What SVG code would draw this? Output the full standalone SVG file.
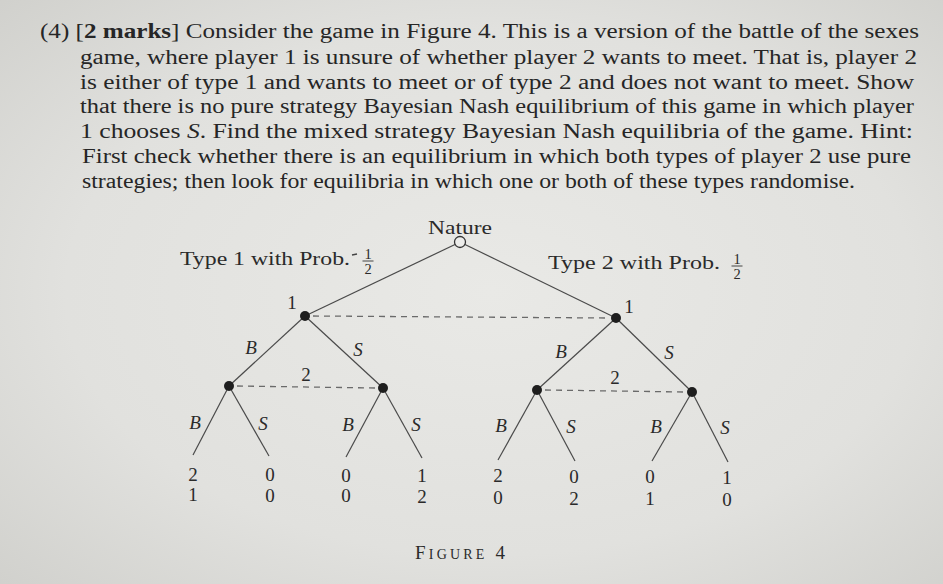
<svg xmlns="http://www.w3.org/2000/svg" width="943" height="584" viewBox="0 0 943 584">
<defs>
<radialGradient id="bg" cx="0.52" cy="0.5" r="0.75">
<stop offset="0" stop-color="#e9e9e6"/>
<stop offset="0.6" stop-color="#e1e1de"/>
<stop offset="1" stop-color="#cfcfcb"/>
</radialGradient>
<style>
.body{font-family:"Liberation Serif","DejaVu Serif",serif;font-size:20px;fill:#262626}
.t{font-family:"Liberation Serif","DejaVu Serif",serif;font-size:19px;fill:#2a2a2a}
.lab{font-family:"Liberation Serif","DejaVu Serif",serif;font-size:19px;fill:#2a2a2a;text-anchor:middle}
.it{font-style:italic}
.fr{font-family:"Liberation Serif","DejaVu Serif",serif;font-size:14.5px;fill:#2a2a2a;text-anchor:middle}
.edge{stroke:#4a4a4a;stroke-width:1.2;fill:none}
.info{stroke:#6a6a6a;stroke-width:1.3;stroke-dasharray:6 5;fill:none}
.dot{fill:#1e1e1e}
</style>
</defs>
<rect width="943" height="584" fill="url(#bg)"/>

<g id="question" class="body">
<text x="40" y="38" textLength="879" lengthAdjust="spacingAndGlyphs">(4) [<tspan font-weight="bold">2 marks</tspan>] Consider the game in Figure 4. This is a version of the battle of the sexes</text>
<text x="80" y="64" textLength="837" lengthAdjust="spacingAndGlyphs">game, where player 1 is unsure of whether player 2 wants to meet. That is, player 2</text>
<text x="80" y="89" textLength="834" lengthAdjust="spacingAndGlyphs">is either of type 1 and wants to meet or of type 2 and does not want to meet. Show</text>
<text x="80" y="113" textLength="834" lengthAdjust="spacingAndGlyphs">that there is no pure strategy Bayesian Nash equilibrium of this game in which player</text>
<text x="80" y="138" textLength="833" lengthAdjust="spacingAndGlyphs">1 chooses <tspan class="it">S</tspan>. Find the mixed strategy Bayesian Nash equilibria of the game. Hint:</text>
<text x="82" y="163" textLength="829" lengthAdjust="spacingAndGlyphs">First check whether there is an equilibrium in which both types of player 2 use pure</text>
<text x="82" y="188" textLength="773" lengthAdjust="spacingAndGlyphs">strategies; then look for equilibria in which one or both of these types randomise.</text>
</g>

<g id="connectors">
<line class="edge" x1="455" y1="244.5" x2="305" y2="316"/>
<line class="edge" x1="465" y1="244.5" x2="616" y2="318"/>
<line class="edge" x1="305" y1="316" x2="229" y2="386"/>
<line class="edge" x1="305" y1="316" x2="383" y2="388"/>
<line class="edge" x1="616" y1="318" x2="537" y2="390"/>
<line class="edge" x1="616" y1="318" x2="692" y2="392"/>
<line class="edge" x1="229" y1="386" x2="193" y2="455"/>
<line class="edge" x1="229" y1="386" x2="269" y2="456"/>
<line class="edge" x1="383" y1="388" x2="346" y2="457"/>
<line class="edge" x1="383" y1="388" x2="422" y2="458"/>
<line class="edge" x1="537" y1="390" x2="498" y2="460"/>
<line class="edge" x1="537" y1="390" x2="575" y2="461"/>
<line class="edge" x1="692" y1="392" x2="652" y2="461"/>
<line class="edge" x1="692" y1="392" x2="728" y2="462"/>
<line class="info" x1="313" y1="316" x2="608" y2="318"/>
<line class="info" x1="237" y1="386" x2="375" y2="388"/>
<line class="info" x1="545" y1="390" x2="684" y2="392"/>
</g>

<g id="nature">
<circle cx="460" cy="242" r="5.5" fill="#ececea" stroke="#333" stroke-width="1.3"/>
<text class="t" x="460" y="234" text-anchor="middle" textLength="64" lengthAdjust="spacingAndGlyphs">Nature</text>
</g>
<g id="type1-label">
<text class="t" x="180" y="265" textLength="170" lengthAdjust="spacingAndGlyphs">Type 1 with Prob.</text>
<line x1="352" y1="255" x2="357" y2="254" stroke="#444" stroke-width="1.3"/>
<text class="fr" x="368" y="258.5">1</text>
<line x1="362.5" y1="261" x2="373.5" y2="261" stroke="#333" stroke-width="0.9"/>
<text class="fr" x="368" y="273.5">2</text>
</g>
<g id="type2-label">
<text class="t" x="548" y="269" textLength="172" lengthAdjust="spacingAndGlyphs">Type 2 with Prob.</text>
<text class="fr" x="737" y="263.5">1</text>
<line x1="731.5" y1="266" x2="742.5" y2="266" stroke="#333" stroke-width="0.9"/>
<text class="fr" x="737" y="278.5">2</text>
</g>

<g id="p1-left">
<circle class="dot" cx="305" cy="316" r="5"/>
<text class="lab" x="292" y="309">1</text>
</g>
<g id="p1-right">
<circle class="dot" cx="616" cy="318" r="5"/>
<text class="lab" x="629" y="313">1</text>
</g>
<g id="p2-left-B">
<circle class="dot" cx="229" cy="386" r="5"/>
</g>
<g id="p2-left-S">
<circle class="dot" cx="383" cy="388" r="5"/>
</g>
<g id="p2-right-B">
<circle class="dot" cx="537" cy="390" r="5"/>
</g>
<g id="p2-right-S">
<circle class="dot" cx="692" cy="392" r="5"/>
</g>

<g id="edge-labels" class="lab">
<text x="306" y="381">2</text>
<text x="615" y="384">2</text>
<text class="it" x="251" y="354">B</text>
<text class="it" x="358" y="356">S</text>
<text class="it" x="561" y="358">B</text>
<text class="it" x="669" y="359">S</text>
<text class="it" x="195" y="429">B</text>
<text class="it" x="263" y="430">S</text>
<text class="it" x="348" y="431">B</text>
<text class="it" x="416" y="431">S</text>
<text class="it" x="501" y="432">B</text>
<text class="it" x="571" y="433">S</text>
<text class="it" x="656" y="433">B</text>
<text class="it" x="725" y="434">S</text>
</g>

<g id="leaf1" class="lab"><text x="193" y="481">2</text><text x="193" y="501">1</text></g>
<g id="leaf2" class="lab"><text x="270" y="481">0</text><text x="270" y="502">0</text></g>
<g id="leaf3" class="lab"><text x="346" y="482">0</text><text x="346" y="502">0</text></g>
<g id="leaf4" class="lab"><text x="422" y="482">1</text><text x="422" y="503">2</text></g>
<g id="leaf5" class="lab"><text x="498" y="482">2</text><text x="498" y="504">0</text></g>
<g id="leaf6" class="lab"><text x="574" y="483">0</text><text x="574" y="505">2</text></g>
<g id="leaf7" class="lab"><text x="650" y="483">0</text><text x="650" y="505">1</text></g>
<g id="leaf8" class="lab"><text x="727" y="484">1</text><text x="727" y="506">0</text></g>

<g id="caption">
<text x="415" y="559" font-family="'Liberation Serif','DejaVu Serif',serif" font-size="19" fill="#2a2a2a" textLength="90" lengthAdjust="spacing">F<tspan font-size="14">IGURE</tspan> 4</text>
</g>
</svg>
